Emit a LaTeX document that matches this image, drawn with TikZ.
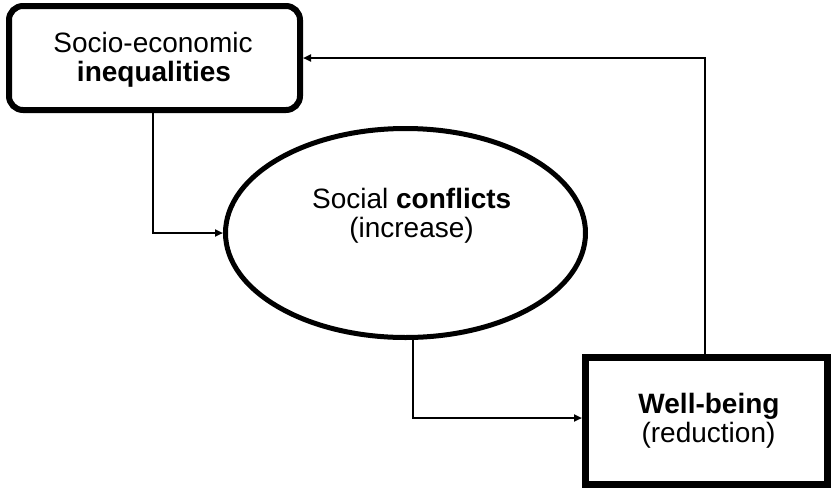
\documentclass[tikz,border=0pt]{standalone}
\usepackage{fontspec}
\setmainfont{Liberation Sans}
\usetikzlibrary{shapes.geometric,arrows.meta}
\tikzset{
  box1/.style={draw, line width=6pt, rounded corners=14pt, minimum width=291pt, minimum height=104pt, inner sep=0pt},
  box3/.style={draw, line width=7pt, minimum width=242pt, minimum height=127pt, inner sep=0pt},
  ell/.style={draw, ellipse, line width=5pt, minimum width=360pt, minimum height=209pt, inner sep=0pt},
  txt/.style={anchor=base, inner sep=0pt, font=\fontsize{28}{29.5}\selectfont},
  conn/.style={line width=2pt, -{Triangle[length=8pt,width=7pt]}}
}
\begin{document}
\begin{tikzpicture}[x=1pt,y=-1pt]
\useasboundingbox (0,0) rectangle (831,488);
\node[box1] (ineq) at (154.5,58) {};
\node[ell] (conf) at (405.5,233) {};
\node[box3] (well) at (706.5,421) {};
\node[txt] (ineqA) at (153,52.3) {Socio-economic};
\node[txt] (ineqB) at (154,81.7) {\textbf{inequalities}};
\node[txt] (confA) at (411.7,208.3) {Social \textbf{conflicts}};
\node[txt] (confB) at (411.5,237.3) {(increase)};
\node[txt] (wellA) at (709,413.3) {\textbf{Well-being}};
\node[txt] (wellB) at (708.5,442.7) {(reduction)};
\draw[conn] ([xshift=-1.5pt]ineq.south) |- (conf.west);
\draw[conn] ([xshift=7.5pt]conf.south) |- ([yshift=3pt]well.west);
\draw[conn] ([xshift=-1.5pt]well.north) |- (ineq.east);
\end{tikzpicture}
\end{document}
